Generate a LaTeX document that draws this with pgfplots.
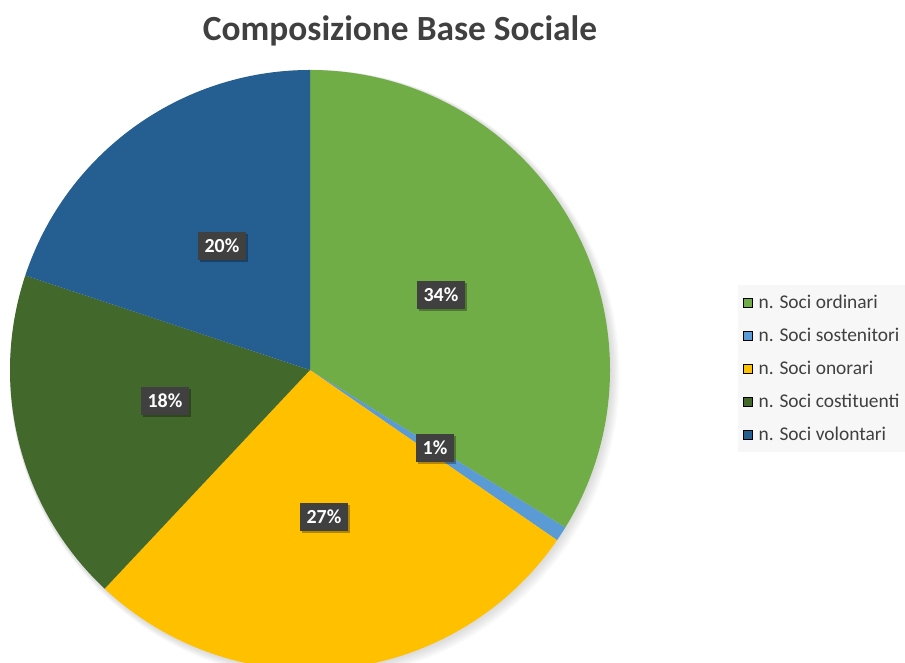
\documentclass[border=0pt]{standalone}
\usepackage{pgfplots}
\pgfplotsset{compat=1.18}
\usepackage{pgfplotstable}
\usepackage{fontspec}
\setmainfont{Carlito}
\usetikzlibrary{shadows}
\definecolor{cOrd}{HTML}{70AD47}
\definecolor{cSos}{HTML}{5B9BD5}
\definecolor{cOno}{HTML}{FFC000}
\definecolor{cCos}{HTML}{43682B}
\definecolor{cVol}{HTML}{255E91}
\definecolor{txt}{HTML}{404040}
\definecolor{legbg}{HTML}{F7F7F7}

% value = share in percent; lx, ly = position of the data label
\pgfplotstableread{
idx value lx ly
0 33.8 441 368
1 0.8 435 215
2 27.4 324 146
3 18.1 165 262
4 19.9 222 417
}\piedata

\begin{document}
\begin{tikzpicture}
\begin{axis}[
  x=1bp, y=1bp,
  xmin=0, xmax=905, ymin=0, ymax=663,
  hide axis, clip=true,
  legend style={at={(0.8155,0.5701)}, anchor=north west, fill=legbg, draw=none,
    font=\fontsize{19.5}{23}\selectfont, text=txt, row sep=14.2bp,
    inner xsep=5bp, inner ysep=7.5bp,
    /tikz/every odd column/.append style={column sep=4bp}},
  legend cell align=left,
  legend image code/.code={\fill[#1] (0bp,-4.5bp) rectangle (9bp,4.5bp);},
]
\addlegendimage{fill=cOrd}\addlegendentry{n. Soci ordinari}
\addlegendimage{fill=cSos}\addlegendentry{n. Soci sostenitori}
\addlegendimage{fill=cOno}\addlegendentry{n. Soci onorari}
\addlegendimage{fill=cCos}\addlegendentry{n. Soci costituenti}
\addlegendimage{fill=cVol}\addlegendentry{n. Soci volontari}
\pgfplotsextra{%
  % soft shadow of the pie
  \foreach \k in {1,...,6}{%
    \pgfmathsetmacro\rr{300+\k*0.8}%
    \fill[black, opacity=0.025] (axis cs:{310+\k*0.8},{293-\k*0.8}) circle[radius=\rr bp];
  }%
  \gdef\cum{0}%
  \foreach \i/\col in {0/cOrd,1/cSos,2/cOno,3/cCos,4/cVol}{%
    \pgfplotstablegetelem{\i}{value}\of\piedata \let\v\pgfplotsretval
    \pgfmathsetmacro\a{90-3.6*\cum}%
    \pgfmathsetmacro\b{90-3.6*(\cum+\v)}%
    \fill[\col] (axis cs:310,293) -- ++(\a:300bp) arc[start angle=\a, end angle=\b, radius=300bp] -- cycle;
    \pgfmathsetmacro\nc{\cum+\v}\global\let\cum\nc
  }%
  \foreach \i in {0,...,4}{%
    \pgfplotstablegetelem{\i}{value}\of\piedata \let\v\pgfplotsretval
    \pgfplotstablegetelem{\i}{lx}\of\piedata \let\lx\pgfplotsretval
    \pgfplotstablegetelem{\i}{ly}\of\piedata \let\ly\pgfplotsretval
    \node[fill=txt, text=white, font=\bfseries\fontsize{20}{23}\selectfont,
      inner xsep=7bp, inner ysep=4bp, minimum height=28bp,
      drop shadow={shadow xshift=2bp, shadow yshift=-2.5bp, fill=black, opacity=0.3}]
      at (axis cs:\lx,\ly) {\pgfmathprintnumber[fixed,precision=0,assume math mode=true]{\v}\%};
  }%
  \node[text=txt, font=\bfseries\fontsize{35.5}{40}\selectfont] at (axis cs:400,632) {Composizione Base Sociale};
}
\end{axis}
\pgfresetboundingbox
\useasboundingbox (current axis.south west) rectangle (current axis.north east);
\end{tikzpicture}
\end{document}
